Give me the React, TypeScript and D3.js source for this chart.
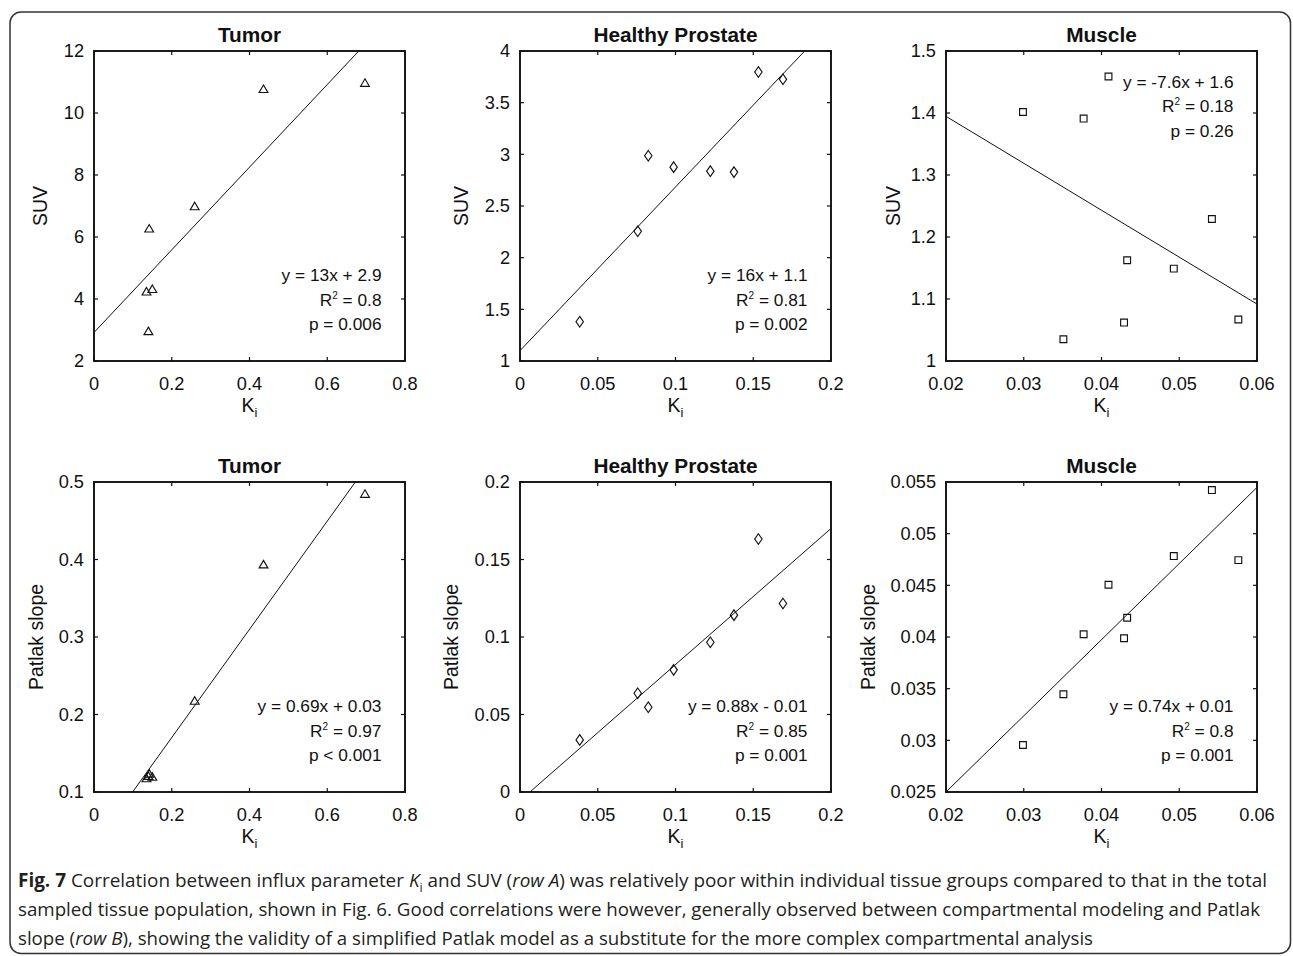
import React from 'react';
import * as d3 from 'd3';

// ---------------- DATA ----------------
const tumorKi = [0.697, 0.436, 0.259, 0.142, 0.135, 0.150, 0.140];
const tumorSUV = [10.98, 10.78, 7.0, 6.28, 4.25, 4.33, 2.97];
const tumorPatlak = [0.485, 0.394, 0.218, 0.124, 0.118, 0.120, 0.121];

const prostateKi = [0.0384, 0.0757, 0.0825, 0.0988, 0.1224, 0.1376, 0.1533, 0.1691];
const prostateSUV = [1.38, 2.256, 2.986, 2.876, 2.837, 2.828, 3.797, 3.726];
const prostatePatlak = [0.0336, 0.0637, 0.0547, 0.0788, 0.0966, 0.1141, 0.1632, 0.1216];

const muscleKi = [0.0299, 0.0377, 0.0409, 0.0351, 0.0429, 0.0433, 0.0493, 0.0542, 0.0576];
const muscleSUV = [1.4016, 1.391, 1.4588, 1.035, 1.062, 1.1625, 1.149, 1.229, 1.067];
const musclePatlak = [0.02955, 0.04027, 0.04506, 0.03446, 0.03988, 0.04186, 0.04783, 0.05422, 0.04744];

// regression lines [slope, intercept]
const fitTumorSUV = [13.33, 2.92];
const fitProstateSUV = [15.84, 1.10];
const fitMuscleSUV = [-7.57, 1.546];
const fitTumorPatlak = [0.698, 0.0307];
const fitProstatePatlak = [0.878, -0.0056];
const fitMusclePatlak = [0.737, 0.01026];

// tick values
const ticksTumorX = [0, 0.2, 0.4, 0.6, 0.8];
const ticksProstateX = [0, 0.05, 0.1, 0.15, 0.2];
const ticksMuscleX = [0.02, 0.03, 0.04, 0.05, 0.06];
const ticksTumorSUV = [2, 4, 6, 8, 10, 12];
const ticksProstateSUV = [1, 1.5, 2, 2.5, 3, 3.5, 4];
const ticksMuscleSUV = [1, 1.1, 1.2, 1.3, 1.4, 1.5];
const ticksTumorPatlak = [0.1, 0.2, 0.3, 0.4, 0.5];
const ticksProstatePatlak = [0, 0.05, 0.1, 0.15, 0.2];
const ticksMusclePatlak = [0.025, 0.03, 0.035, 0.04, 0.045, 0.05, 0.055];

const titles = ['Tumor', 'Healthy Prostate', 'Muscle'];
const yLabels = ['SUV', 'Patlak slope'];

// annotations: equation, R^2, p
const statsTumorSUV = ['y = 13x + 2.9', '0.8', 'p = 0.006'];
const statsProstateSUV = ['y = 16x + 1.1', '0.81', 'p = 0.002'];
const statsMuscleSUV = ['y = -7.6x + 1.6', '0.18', 'p = 0.26'];
const statsTumorPatlak = ['y = 0.69x + 0.03', '0.97', 'p < 0.001'];
const statsProstatePatlak = ['y = 0.88x - 0.01', '0.85', 'p = 0.001'];
const statsMusclePatlak = ['y = 0.74x + 0.01', '0.8', 'p = 0.001'];

type Seg = { t: string; s?: 'b' | 'i' | 'sub' };
const caption1: Seg[] = [
  { t: 'Fig. 7', s: 'b' },
  { t: ' Correlation between influx parameter ' },
  { t: 'K', s: 'i' },
  { t: 'i', s: 'sub' },
  { t: ' and SUV (' },
  { t: 'row A', s: 'i' },
  { t: ') was relatively poor within individual tissue groups compared to that in the total' },
];
const caption2: Seg[] = [
  { t: 'sampled tissue population, shown in Fig. 6. Good correlations were however, generally observed between compartmental modeling and Patlak' },
];
const caption3: Seg[] = [
  { t: 'slope (' },
  { t: 'row B', s: 'i' },
  { t: '), showing the validity of a simplified Patlak model as a substitute for the more complex compartmental analysis' },
];

// ---------------- LAYOUT ----------------
const FONT = '"Liberation Sans", Arial, Helvetica, sans-serif';
const INK = '#111';
const colLeft = [94, 520, 946];
const rowTop = [51, 482];
const PW = 311;
const PH = 310;

type Marker = 'tri' | 'dia' | 'sq';

interface PanelCfg {
  id: string;
  col: number;
  row: number;
  xDomain: [number, number];
  yDomain: [number, number];
  xTicks: number[];
  yTicks: number[];
  xs: number[];
  ys: number[];
  marker: Marker;
  fit: number[];
  stats: string[];
  statsTop: boolean;
  ylabOff: number;
}

const panels: PanelCfg[] = [
  { id: 'p1', col: 0, row: 0, xDomain: [0, 0.8], yDomain: [2, 12], xTicks: ticksTumorX, yTicks: ticksTumorSUV, xs: tumorKi, ys: tumorSUV, marker: 'tri', fit: fitTumorSUV, stats: statsTumorSUV, statsTop: false, ylabOff: 47 },
  { id: 'p2', col: 1, row: 0, xDomain: [0, 0.2], yDomain: [1, 4], xTicks: ticksProstateX, yTicks: ticksProstateSUV, xs: prostateKi, ys: prostateSUV, marker: 'dia', fit: fitProstateSUV, stats: statsProstateSUV, statsTop: false, ylabOff: 52 },
  { id: 'p3', col: 2, row: 0, xDomain: [0.02, 0.06], yDomain: [1, 1.5], xTicks: ticksMuscleX, yTicks: ticksMuscleSUV, xs: muscleKi, ys: muscleSUV, marker: 'sq', fit: fitMuscleSUV, stats: statsMuscleSUV, statsTop: true, ylabOff: 46 },
  { id: 'p4', col: 0, row: 1, xDomain: [0, 0.8], yDomain: [0.1, 0.5], xTicks: ticksTumorX, yTicks: ticksTumorPatlak, xs: tumorKi, ys: tumorPatlak, marker: 'tri', fit: fitTumorPatlak, stats: statsTumorPatlak, statsTop: false, ylabOff: 51 },
  { id: 'p5', col: 1, row: 1, xDomain: [0, 0.2], yDomain: [0, 0.2], xTicks: ticksProstateX, yTicks: ticksProstatePatlak, xs: prostateKi, ys: prostatePatlak, marker: 'dia', fit: fitProstatePatlak, stats: statsProstatePatlak, statsTop: false, ylabOff: 62 },
  { id: 'p6', col: 2, row: 1, xDomain: [0.02, 0.06], yDomain: [0.025, 0.055], xTicks: ticksMuscleX, yTicks: ticksMusclePatlak, xs: muscleKi, ys: musclePatlak, marker: 'sq', fit: fitMusclePatlak, stats: statsMusclePatlak, statsTop: false, ylabOff: 71 },
];

const fmt = (v: number) => String(parseFloat(v.toFixed(4)));

function markerPath(m: Marker, cx: number, cy: number): string {
  const p = d3.path();
  if (m === 'tri') {
    p.moveTo(cx, cy - 3.8);
    p.lineTo(cx + 4.4, cy + 3.7);
    p.lineTo(cx - 4.4, cy + 3.7);
    p.closePath();
  } else if (m === 'dia') {
    p.moveTo(cx, cy - 5.3);
    p.lineTo(cx + 3.7, cy);
    p.lineTo(cx, cy + 5.3);
    p.lineTo(cx - 3.7, cy);
    p.closePath();
  } else {
    p.rect(cx - 3.4, cy - 3.4, 6.8, 6.8);
  }
  return p.toString();
}

function Panel({ cfg }: { cfg: PanelCfg }) {
  const left = colLeft[cfg.col];
  const top = rowTop[cfg.row];
  const right = left + PW;
  const bottom = top + PH;
  const x = d3.scaleLinear().domain(cfg.xDomain).range([left, right]);
  const y = d3.scaleLinear().domain(cfg.yDomain).range([bottom, top]);
  const [slope, icpt] = cfg.fit;
  const lineGen = d3.line<number>().x((d) => x(d)).y((d) => y(slope * d + icpt));
  const statsBase = cfg.statsTop ? top + 36.5 : top + 230;
  const statsRight = right - 23.5;
  const TL = 4;
  const SF = 17.3;
  return (
    <g>
      <defs>
        <clipPath id={`clip-${cfg.id}`}>
          <rect x={left} y={top} width={PW} height={PH} />
        </clipPath>
      </defs>
      {/* title */}
      <text x={(left + right) / 2} y={top - 9} textAnchor="middle" fontFamily={FONT} fontWeight="bold" fontSize={20.8} fill={INK}>
        {titles[cfg.col]}
      </text>
      {/* ticks */}
      {cfg.xTicks.map((t) => (
        <g key={`xt${t}`}>
          <line x1={x(t)} x2={x(t)} y1={bottom} y2={bottom - TL} stroke={INK} strokeWidth={1.2} />
          <line x1={x(t)} x2={x(t)} y1={top} y2={top + TL} stroke={INK} strokeWidth={1.2} />
          <text x={x(t)} y={bottom + 29} textAnchor="middle" fontFamily={FONT} fontSize={18.2} fill={INK}>
            {fmt(t)}
          </text>
        </g>
      ))}
      {cfg.yTicks.map((t) => (
        <g key={`yt${t}`}>
          <line x1={left} x2={left + TL} y1={y(t)} y2={y(t)} stroke={INK} strokeWidth={1.2} />
          <line x1={right} x2={right - TL} y1={y(t)} y2={y(t)} stroke={INK} strokeWidth={1.2} />
          <text x={left - 10} y={y(t) + 6.4} textAnchor="end" fontFamily={FONT} fontSize={18.2} fill={INK}>
            {fmt(t)}
          </text>
        </g>
      ))}
      {/* fit line */}
      <path d={lineGen(cfg.xDomain) || ''} fill="none" stroke={INK} strokeWidth={1} clipPath={`url(#clip-${cfg.id})`} />
      {/* markers */}
      {cfg.xs.map((v, i) => (
        <path key={`m${i}`} d={markerPath(cfg.marker, x(v), y(cfg.ys[i]))} fill="none" stroke={INK} strokeWidth={1.15} />
      ))}
      {/* frame */}
      <rect x={left} y={top} width={PW} height={PH} fill="none" stroke={INK} strokeWidth={1.9} />
      {/* stats */}
      <text x={statsRight} y={statsBase} textAnchor="end" fontFamily={FONT} fontSize={SF} fill={INK} style={{ whiteSpace: 'pre' }}>
        {cfg.stats[0]}
      </text>
      <text x={statsRight} y={statsBase + 24.5} textAnchor="end" fontFamily={FONT} fontSize={SF} fill={INK} style={{ whiteSpace: 'pre' }}>
        <tspan>R</tspan>
        <tspan fontSize={10} dy={-7}>2</tspan>
        <tspan dy={7}>{' = ' + cfg.stats[1]}</tspan>
      </text>
      <text x={statsRight} y={statsBase + 49} textAnchor="end" fontFamily={FONT} fontSize={SF} fill={INK} style={{ whiteSpace: 'pre' }}>
        {cfg.stats[2]}
      </text>
      {/* x label */}
      <text x={(left + right) / 2} y={bottom + 50.5} textAnchor="middle" fontFamily={FONT} fontSize={19.5} fill={INK}>
        <tspan>K</tspan>
        <tspan fontSize={13} dy={5.5}>i</tspan>
      </text>
      {/* y label */}
      <text
        transform={`translate(${left - cfg.ylabOff},${(top + bottom) / 2}) rotate(-90)`}
        textAnchor="middle"
        fontFamily={FONT}
        fontSize={19.5}
        fill={INK}
      >
        {yLabels[cfg.row]}
      </text>
    </g>
  );
}

const CAP_FONT = '"Open Sans", "Noto Sans", sans-serif';
const CAP_INK = '#231f20';

function CaptionLine({ segs, y, len }: { segs: Seg[]; y: number; len: number }) {
  let shift = 0;
  const spans = segs.map((s, i) => {
    const target = s.s === 'sub' ? 4.5 : 0;
    const dy = target - shift;
    shift = target;
    return (
      <tspan
        key={i}
        dy={dy}
        fontWeight={s.s === 'b' ? 'bold' : 'normal'}
        fontStyle={s.s === 'i' ? 'italic' : 'normal'}
        fontSize={s.s === 'sub' ? 12.5 : 19}
      >
        {s.t}
      </tspan>
    );
  });
  return (
    <text x={18} y={y} fontFamily={CAP_FONT} fontSize={19} fill={CAP_INK} textLength={len} lengthAdjust="spacingAndGlyphs" style={{ whiteSpace: 'pre' }}>
      {spans}
    </text>
  );
}

export default function App() {
  return (
    <svg width={1293} height={956} style={{ position: 'absolute', left: 0, top: 0, background: '#fff' }}>
      <rect x={0} y={0} width={1293} height={956} fill="#fff" />
      <rect x={10} y={12} width={1280.5} height={941.5} rx={11} ry={11} fill="none" stroke="#333" strokeWidth={1.5} />
      {panels.map((p) => (
        <Panel key={p.id} cfg={p} />
      ))}
      <CaptionLine segs={caption1} y={887} len={1249} />
      <CaptionLine segs={caption2} y={916} len={1242} />
      <CaptionLine segs={caption3} y={945} len={1075} />
    </svg>
  );
}
